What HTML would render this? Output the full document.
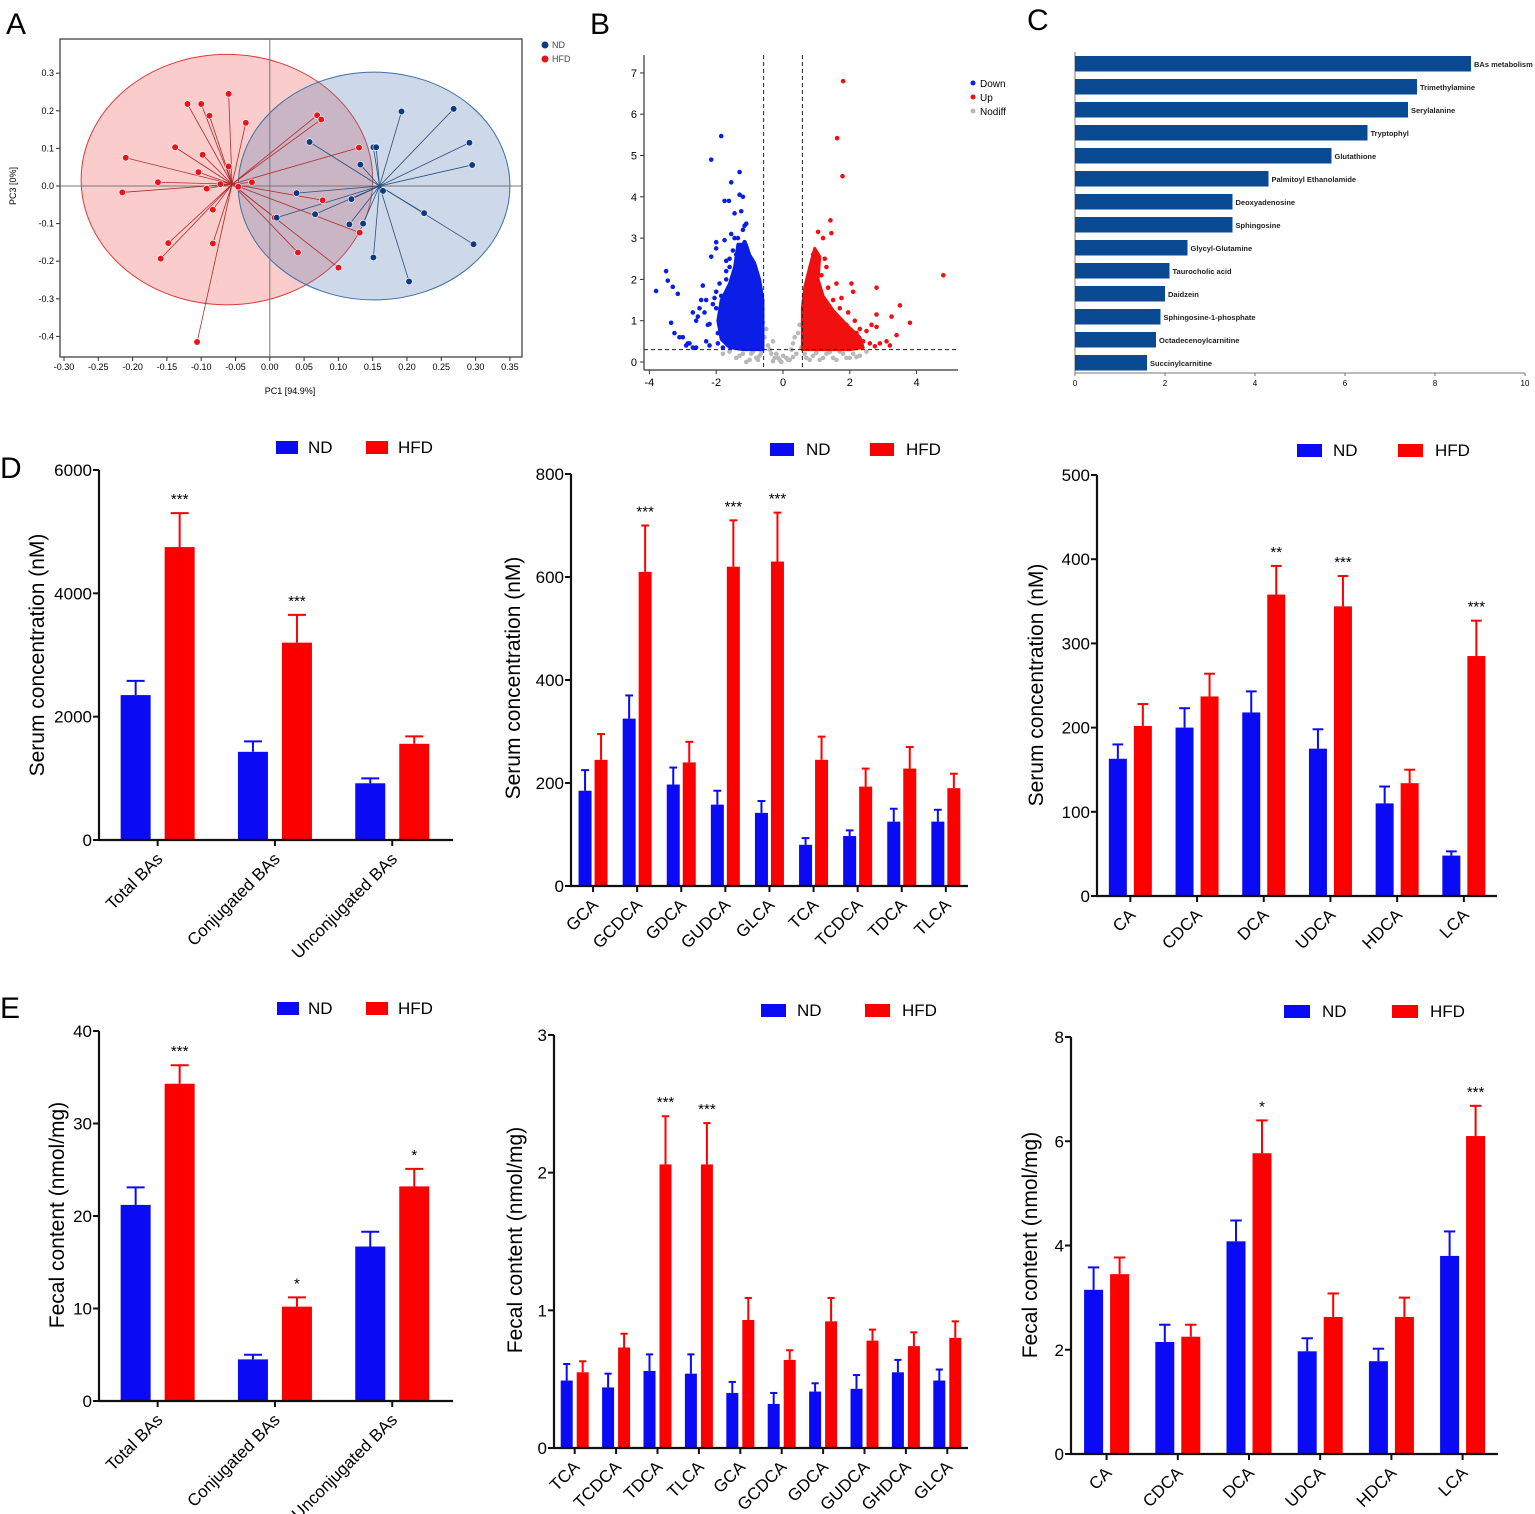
<!DOCTYPE html>
<html><head><meta charset="utf-8"><style>
html,body{margin:0;padding:0;background:#fff;}
svg{display:block;font-family:"Liberation Sans",Arial,sans-serif;}
</style></head><body>
<svg id="fig" width="1535" height="1514" viewBox="0 0 1535 1514" xmlns="http://www.w3.org/2000/svg">
<text x="6" y="34" font-size="30">A</text>
<text x="590" y="34" font-size="30">B</text>
<text x="1027" y="30" font-size="30">C</text>
<text x="0" y="478" font-size="30">D</text>
<text x="0" y="1018" font-size="30">E</text>
<g id="gA"></g>
<g id="gB"></g>
<g id="gC"></g>
<g id="gD1"></g>
<g id="gD2"></g>
<g id="gD3"></g>
<g id="gE1"></g>
<g id="gE2"></g>
<g id="gE3"></g>
</svg>
<script>
// ---------- Panel A data ----------
const pcaHFDx = [-0.06,-0.12,-0.10,-0.088,-0.035,-0.138,-0.21,-0.098,-0.06,-0.104,-0.163,-0.072,-0.215,-0.092,-0.046,-0.026,-0.083,-0.148,-0.159,-0.083,-0.106,0.069,0.075,0.13,0.077,0.007,0.041,0.131,0.1];
const pcaHFDy = [0.245,0.218,0.218,0.187,0.168,0.103,0.075,0.083,0.052,0.037,0.01,0.005,-0.017,-0.007,-0.002,0.01,-0.063,-0.152,-0.193,-0.153,-0.415,0.188,0.177,0.102,-0.038,-0.084,-0.177,-0.124,-0.217];
const pcaNDx = [0.058,0.192,0.268,0.291,0.295,0.151,0.155,0.132,0.165,0.039,0.119,0.066,0.01,0.116,0.136,0.225,0.297,0.151,0.203];
const pcaNDy = [0.117,0.198,0.205,0.115,0.056,0.103,0.103,0.057,-0.013,-0.019,-0.035,-0.075,-0.084,-0.102,-0.1,-0.072,-0.155,-0.19,-0.254];
const pcaXTicks = [-0.30,-0.25,-0.20,-0.15,-0.10,-0.05,0.00,0.05,0.10,0.15,0.20,0.25,0.30,0.35];
const pcaYTicks = [0.3,0.2,0.1,0.0,-0.1,-0.2,-0.3,-0.4];
// ---------- Panel B data ----------
const volDownX = [-3.8,-3.5,-3.45,-3.3,-3.15,-3.35,-3.25,-3.1,-3.0,-2.85,-2.7,-2.6,-2.7,-2.6,-2.5,-2.4,-2.3,-2.2,-2.15,-2.0,-2.0,-2.0,-1.85,-2.15,-1.3,-1.55,-1.75,-1.62,-1.3,-1.2,-1.45,-1.25,-1.15,-1.55,-1.45,-1.75,-2.3,-2.2,-1.8,-2.0,-1.9,-1.7,-1.6,-1.4,-2.1,-1.85,-2.45,-2.35,-2.25,-2.05,-1.95,-1.9,-1.8,-1.75,-1.7,-1.65,-1.6,-1.55,-1.5,-1.35,-1.3,-1.2,-1.15,-1.1,-2.8,-2.9,-2.55,-1.95,-1.85,-1.7];
const volDownY = [1.72,2.2,1.97,1.82,1.65,0.95,0.7,0.6,0.6,0.45,0.35,0.35,1.2,1.0,1.3,1.85,1.5,0.92,2.55,1.7,2.9,2.75,5.47,4.9,4.6,4.35,3.9,3.9,4.05,4.0,3.6,3.65,3.3,3.1,3.0,2.95,0.5,0.4,0.35,1.3,1.1,2.2,2.5,2.6,1.4,0.8,1.5,1.2,0.9,1.55,0.7,1.9,1.25,0.55,2.0,1.7,2.3,1.0,2.7,3.0,2.3,3.2,2.9,3.35,0.45,0.4,1.1,0.45,1.6,2.45];
const volUpX = [1.8,1.62,1.78,1.42,1.05,1.45,1.2,1.3,1.6,2.05,2.8,4.8,3.5,2.8,3.25,3.8,3.4,2.65,2.8,2.1,1.75,3.1,2.9,2.75,3.2,2.3,2.0,1.85,2.2,1.6,1.4,1.55,1.7,1.9,2.4,2.5,2.15,1.95,1.25,1.15,1.0,0.9,1.35,1.5,2.6];
const volUpY = [6.8,5.42,4.5,3.43,3.15,3.12,3.0,2.3,1.9,1.9,1.8,2.1,1.37,1.15,1.1,0.95,0.65,0.9,0.85,1.7,1.55,0.5,0.45,0.38,0.4,0.8,0.55,0.4,0.7,1.0,1.2,0.6,1.3,0.9,0.5,0.75,1.0,1.2,2.5,2.1,2.4,2.6,1.8,1.5,0.45];
const volNoX = [-1.4,-1.2,-1.0,-0.9,-0.8,-0.7,-0.55,-0.5,-0.45,-0.4,-0.35,-0.3,-0.25,-0.2,-0.1,0.0,0.1,0.2,0.25,0.3,0.35,0.4,0.45,0.5,0.55,0.7,0.9,1.1,1.3,1.5,1.7,1.9,2.1,2.3,-1.6,-0.6,0.6,-0.15,0.15,-0.05,-1.3,-1.1,-0.95,-0.75,-0.65,0.65,0.8,1.0,1.2,1.4,1.6,1.8,2.0,2.2,2.5,-1.8,-0.3,0.3];
const volNoY = [0.1,0.2,0.05,0.25,0.1,0.15,0.6,0.8,0.4,0.3,0.2,0.5,0.1,0.2,0.05,0.15,0.1,0.05,0.3,0.45,0.6,0.2,0.7,0.9,0.35,0.1,0.15,0.05,0.2,0.1,0.25,0.1,0.2,0.15,0.25,0.95,1.0,0.1,0.05,0.0,0.15,0.0,0.2,0.05,0.22,0.2,0.05,0.22,0.1,0.24,0.05,0.2,0.1,0.12,0.25,0.2,0.02,0.12];
const volDownPoly = [[-0.6,0.3],[-0.6,1.5],[-0.7,2.0],[-0.85,2.4],[-1.0,2.6],[-1.1,2.85],[-1.35,2.85],[-1.45,2.3],[-1.6,1.9],[-1.85,1.5],[-1.95,1.0],[-1.85,0.55],[-1.6,0.35],[-1.2,0.3]];
const volUpPoly = [[0.58,0.3],[0.58,1.3],[0.65,1.8],[0.8,2.3],[0.95,2.75],[1.1,2.55],[1.05,2.0],[1.2,1.6],[1.5,1.25],[1.9,0.9],[2.3,0.6],[2.4,0.35],[2.0,0.3]];
// ---------- Panel C data ----------
const cNames = ["BAs metabolism","Trimethylamine","Serylalanine","Tryptophyl","Glutathione","Palmitoyl Ethanolamide","Deoxyadenosine","Sphingosine","Glycyl-Glutamine","Taurocholic acid","Daidzein","Sphingosine-1-phosphate","Octadecenoylcarnitine","Succinylcarnitine"];
const cValues = [8.8,7.6,7.4,6.5,5.7,4.3,3.5,3.5,2.5,2.1,2.0,1.9,1.8,1.6];
const cTicks = [0,2,4,6,8,10];
// ---------- Panel D data ----------
const d1Cats = ["Total BAs","Conjugated BAs","Unconjugated BAs"];
const d1ND = [2350,1430,920];
const d1NDerr = [2580,1600,1000];
const d1HFD = [4750,3200,1560];
const d1HFDerr = [5300,3650,1680];
const d1Stars = ["***","***",""];
const d2Cats = ["GCA","GCDCA","GDCA","GUDCA","GLCA","TCA","TCDCA","TDCA","TLCA"];
const d2ND = [185,325,197,158,142,80,97,125,125];
const d2NDerr = [225,370,230,185,165,93,108,150,148];
const d2HFD = [245,610,240,620,630,245,193,228,190];
const d2HFDerr = [295,700,280,710,725,290,228,270,218];
const d2Stars = ["","***","","***","***","","","",""];
const d3Cats = ["CA","CDCA","DCA","UDCA","HDCA","LCA"];
const d3ND = [163,200,218,175,110,48];
const d3NDerr = [180,223,243,198,130,53];
const d3HFD = [202,237,358,344,134,285];
const d3HFDerr = [228,264,392,380,150,327];
const d3Stars = ["","","**","***","","***"];
// ---------- Panel E data ----------
const e1Cats = ["Total BAs","Conjugated BAs","Unconjugated BAs"];
const e1ND = [21.2,4.5,16.7];
const e1NDerr = [23.1,5.0,18.3];
const e1HFD = [34.3,10.2,23.2];
const e1HFDerr = [36.3,11.2,25.1];
const e1Stars = ["***","*","*"];
const e2Cats = ["TCA","TCDCA","TDCA","TLCA","GCA","GCDCA","GDCA","GUDCA","GHDCA","GLCA"];
const e2ND = [0.49,0.44,0.56,0.54,0.40,0.32,0.41,0.43,0.55,0.49];
const e2NDerr = [0.61,0.54,0.68,0.68,0.48,0.40,0.47,0.53,0.64,0.57];
const e2HFD = [0.55,0.73,2.06,2.06,0.93,0.64,0.92,0.78,0.74,0.80];
const e2HFDerr = [0.63,0.83,2.41,2.36,1.09,0.71,1.09,0.86,0.84,0.92];
const e2Stars = ["","","***","***","","","","","",""];
const e3Cats = ["CA","CDCA","DCA","UDCA","HDCA","LCA"];
const e3ND = [3.15,2.15,4.08,1.97,1.78,3.8];
const e3NDerr = [3.58,2.48,4.48,2.22,2.02,4.27];
const e3HFD = [3.45,2.25,5.77,2.63,2.63,6.1];
const e3HFDerr = [3.77,2.48,6.4,3.08,3.0,6.68];
const e3Stars = ["","","*","","","***"];

const NS="http://www.w3.org/2000/svg";
function mk(parent,tag,attrs,text){const e=document.createElementNS(NS,tag);for(const k in attrs)e.setAttribute(k,attrs[k]);if(text!==undefined)e.textContent=text;parent.appendChild(e);return e;}

// ===== Panel A =====
(function(){
 const g=document.getElementById('gA');
 const xA=v=>64+(v+0.3)/0.05*34.3, yA=v=>186-v*376;
 let e;
 e=mk(g,'rect',{x:60,y:39,width:462,height:318,fill:'none',stroke:'#333','stroke-width':1.2});
 
 e=mk(g,'ellipse',{cx:xA(-0.0625),cy:yA(0.017),rx:0.2125/0.05*34.3,ry:0.333*376,fill:'rgba(240,110,110,0.35)',stroke:'#e03a3a','stroke-width':1});
 
 e=mk(g,'ellipse',{cx:xA(0.152),cy:yA(0.0),rx:0.198/0.05*34.3,ry:0.303*376,fill:'rgba(90,130,180,0.3)',stroke:'#3f6fa8','stroke-width':1});
 
 mk(g,'line',{x1:xA(0),x2:xA(0),y1:39,y2:357,stroke:'#777','stroke-width':1});
 mk(g,'line',{x1:60,x2:522,y1:yA(0),y2:yA(0),stroke:'#777','stroke-width':1});
 pcaXTicks.forEach(t=>{mk(g,'line',{x1:xA(t),x2:xA(t),y1:357,y2:361,stroke:'#333'});
  e=mk(g,'text',{x:xA(t),y:370,'font-size':9,'text-anchor':'middle'},t.toFixed(2));
  });
 pcaYTicks.forEach(t=>{mk(g,'line',{x1:56,x2:60,y1:yA(t),y2:yA(t),stroke:'#333'});
  e=mk(g,'text',{x:54,y:yA(t)+3,'font-size':9,'text-anchor':'end'},t.toFixed(1));
  });
 e=mk(g,'text',{x:290,y:394,'font-size':9,'text-anchor':'middle'},'PC1 [94.9%]');
 
 e=mk(g,'text',{x:0,y:0,'font-size':9,'text-anchor':'middle',transform:'translate(16,186) rotate(-90)'},'PC3 [0%]');
 
 const cH=[xA(-0.055),yA(0.005)], cN=[xA(0.16),yA(0)];
 pcaHFDx.forEach((x,i)=>mk(g,'line',{x1:cH[0],y1:cH[1],x2:xA(x),y2:yA(pcaHFDy[i]),stroke:'#b32a2a','stroke-width':0.8}));
 pcaNDx.forEach((x,i)=>mk(g,'line',{x1:cN[0],y1:cN[1],x2:xA(x),y2:yA(pcaNDy[i]),stroke:'#2a4f80','stroke-width':0.8}));
 pcaHFDx.forEach((x,i)=>{e=mk(g,'circle',{cx:xA(x),cy:yA(pcaHFDy[i]),r:3.3,fill:'#e8141c',stroke:'#fff','stroke-width':0.6});
  });
 pcaNDx.forEach((x,i)=>{e=mk(g,'circle',{cx:xA(x),cy:yA(pcaNDy[i]),r:3.3,fill:'#0d3a82',stroke:'#fff','stroke-width':0.6});
  });
 mk(g,'circle',{cx:545,cy:45,r:3.5,fill:'#0d3a82'});
 e=mk(g,'text',{x:552,y:48,'font-size':9,fill:'#444'},'ND');
 mk(g,'circle',{cx:545,cy:59,r:3.5,fill:'#e8141c'});
 e=mk(g,'text',{x:552,y:62,'font-size':9,fill:'#444'},'HFD');
})();

// ===== Panel B =====
(function(){
 const g=document.getElementById('gB');
 const xB=v=>783+v*33.4, yB=v=>362-v*41.3;
 let e;
 mk(g,'line',{x1:644,x2:644,y1:55,y2:370,stroke:'#333','stroke-width':1.2});
 mk(g,'line',{x1:644,x2:958,y1:370,y2:370,stroke:'#333','stroke-width':1.2});
 [-4,-2,0,2,4].forEach(t=>{mk(g,'line',{x1:xB(t),x2:xB(t),y1:370,y2:374,stroke:'#333'});
  e=mk(g,'text',{x:xB(t),y:386,'font-size':11,'text-anchor':'middle'},String(t));
  });
 [0,1,2,3,4,5,6,7].forEach(t=>{mk(g,'line',{x1:640,x2:644,y1:yB(t),y2:yB(t),stroke:'#333'});
  e=mk(g,'text',{x:637,y:yB(t)+4,'font-size':11,'text-anchor':'end'},String(t));
  });
 volNoX.forEach((x,i)=>mk(g,'circle',{cx:xB(x),cy:yB(volNoY[i]),r:2.3,fill:'#b8b8b8'}));
 e=mk(g,'polygon',{points:volDownPoly.map(p=>xB(p[0])+','+yB(p[1])).join(' '),fill:'#0a1ee6',stroke:'#0a1ee6','stroke-width':3,'stroke-linejoin':'round'});
 
 e=mk(g,'polygon',{points:volUpPoly.map(p=>xB(p[0])+','+yB(p[1])).join(' '),fill:'#f01010',stroke:'#f01010','stroke-width':3,'stroke-linejoin':'round'});
 
 volDownX.forEach((x,i)=>mk(g,'circle',{cx:xB(x),cy:yB(volDownY[i]),r:2.3,fill:'#0a1ee6'}));
 volUpX.forEach((x,i)=>mk(g,'circle',{cx:xB(x),cy:yB(volUpY[i]),r:2.3,fill:'#f01010'}));
 mk(g,'line',{x1:xB(-0.58),x2:xB(-0.58),y1:55,y2:370,stroke:'#222','stroke-dasharray':'4,3'});
 mk(g,'line',{x1:xB(0.58),x2:xB(0.58),y1:55,y2:370,stroke:'#222','stroke-dasharray':'4,3'});
 mk(g,'line',{x1:644,x2:958,y1:yB(0.3),y2:yB(0.3),stroke:'#222','stroke-dasharray':'4,3'});
 [['Down','#0a1ee6',83],['Up','#f01010',97],['Nodiff','#b8b8b8',111]].forEach(l=>{
  mk(g,'circle',{cx:973,cy:l[2],r:2.5,fill:l[1]});
  e=mk(g,'text',{x:980,y:l[2]+4,'font-size':10},l[0]);
  });
})();

// ===== Panel C =====
(function(){
 const g=document.getElementById('gC');
 const xC=v=>1075+v*45;
 let e;
 mk(g,'line',{x1:1075,x2:1075,y1:52,y2:373,stroke:'#777'});
 mk(g,'line',{x1:1075,x2:1525,y1:373,y2:373,stroke:'#777'});
 cTicks.forEach(t=>{mk(g,'line',{x1:xC(t),x2:xC(t),y1:373,y2:376,stroke:'#777'});
  e=mk(g,'text',{x:xC(t),y:386,'font-size':8,'text-anchor':'middle'},String(t));
  });
 cValues.forEach((v,i)=>{const y=56+i*23;
  e=mk(g,'rect',{x:1075,y:y,width:xC(v)-1075,height:15.5,fill:'#0a4a92'});
  
  e=mk(g,'text',{x:xC(v)+3,y:y+11,'font-size':7.5,'font-weight':'bold',fill:'#222'},cNames[i]);
  });
})();

// ===== Bar charts =====
function barChart(id,L,cats,nd,ndE,hf,hfE,stars){
 const g=document.getElementById(id);
 const y=v=>L.y0-(v/L.ymax)*(L.y0-L.yTop);
 let e;
 const c0=L.ax+L.sp/2;
 for(let t=0;t<=L.ymax+1e-9;t+=L.step){
  mk(g,'line',{x1:L.ax-6,x2:L.ax,y1:y(t),y2:y(t),stroke:'#111','stroke-width':2});
  e=mk(g,'text',{x:L.ax-7,y:y(t)+6,'font-size':17,'text-anchor':'end'},String(Math.round(t*100)/100));
  
 }
 cats.forEach((c,i)=>{const cx=c0+i*L.sp;
  const xn=cx+L.nd-L.w/2, xh=cx+L.hf-L.w/2;
  e=mk(g,'rect',{x:xn,y:y(nd[i]),width:L.w,height:L.y0-y(nd[i]),fill:'#0a0af5'});
  
  e=mk(g,'rect',{x:xh,y:y(hf[i]),width:L.w,height:L.y0-y(hf[i]),fill:'#fc0000'});
  
  mk(g,'line',{x1:cx+L.nd,x2:cx+L.nd,y1:y(nd[i]),y2:y(ndE[i]),stroke:'#0a0af5','stroke-width':2});
  mk(g,'line',{x1:cx+L.nd-L.w*0.3,x2:cx+L.nd+L.w*0.3,y1:y(ndE[i]),y2:y(ndE[i]),stroke:'#0a0af5','stroke-width':2});
  mk(g,'line',{x1:cx+L.hf,x2:cx+L.hf,y1:y(hf[i]),y2:y(hfE[i]),stroke:'#fc0000','stroke-width':2});
  mk(g,'line',{x1:cx+L.hf-L.w*0.3,x2:cx+L.hf+L.w*0.3,y1:y(hfE[i]),y2:y(hfE[i]),stroke:'#fc0000','stroke-width':2});
  if(stars[i]){e=mk(g,'text',{x:cx+L.hf,y:y(hfE[i])-9,'font-size':15,'text-anchor':'middle'},stars[i]);
   }
  mk(g,'line',{x1:cx,x2:cx,y1:L.y0,y2:L.y0+6,stroke:'#111','stroke-width':2});
  e=mk(g,'text',{x:0,y:0,'font-size':17,'text-anchor':'end',transform:'translate('+(cx+6)+','+(L.y0+20)+') rotate(-45)'},c);
  
 });
 mk(g,'line',{x1:L.ax,x2:L.ax,y1:L.yTop,y2:L.y0+1,stroke:'#111','stroke-width':2.2});
 mk(g,'line',{x1:L.ax-1,x2:L.end,y1:L.y0,y2:L.y0,stroke:'#111','stroke-width':2.2});
 e=mk(g,'text',{x:0,y:0,'font-size':21,'text-anchor':'middle',transform:'translate('+L.tx+','+L.ty+') rotate(-90)'},L.title);
 
 e=mk(g,'rect',{x:L.lg[0],y:L.lg[1],width:L.lg[2],height:13,fill:'#0a0af5'});
 
 e=mk(g,'text',{x:L.lg[3],y:L.lg[1]+12,'font-size':17},'ND');
 
 e=mk(g,'rect',{x:L.lg[4],y:L.lg[1],width:L.lg[2],height:13,fill:'#fc0000'});
 
 e=mk(g,'text',{x:L.lg[5],y:L.lg[1]+12,'font-size':17},'HFD');
 
}
const SC='Serum concentration (nM)', FC='Fecal content (nmol/mg)';
barChart('gD1',{ax:99,y0:840,yTop:470,ymax:6000,step:2000,sp:117.3,end:453,nd:-22,hf:22,w:30,tx:44,ty:655,title:SC,lg:[276,441,22,308,366,398]},d1Cats,d1ND,d1NDerr,d1HFD,d1HFDerr,d1Stars);
barChart('gD2',{ax:571,y0:886,yTop:474,ymax:800,step:200,sp:44.1,end:968,nd:-8,hf:8,w:13,tx:520,ty:678,title:SC,lg:[770,443,24,806,870,906]},d2Cats,d2ND,d2NDerr,d2HFD,d2HFDerr,d2Stars);
barChart('gD3',{ax:1097,y0:896,yTop:475,ymax:500,step:100,sp:66.7,end:1497,nd:-12.5,hf:12.5,w:18,tx:1043,ty:685,title:SC,lg:[1297,444,25,1333,1398,1435]},d3Cats,d3ND,d3NDerr,d3HFD,d3HFDerr,d3Stars);
barChart('gE1',{ax:99,y0:1401,yTop:1031,ymax:40,step:10,sp:117.3,end:453,nd:-22,hf:22,w:30,tx:64,ty:1215,title:FC,lg:[277,1002,22,308,366,398]},e1Cats,e1ND,e1NDerr,e1HFD,e1HFDerr,e1Stars);
barChart('gE2',{ax:554,y0:1448,yTop:1035,ymax:3,step:1,sp:41.4,end:968,nd:-8,hf:8,w:12,tx:522,ty:1240,title:FC,lg:[761,1004,25,797,865,902]},e2Cats,e2ND,e2NDerr,e2HFD,e2HFDerr,e2Stars);
barChart('gE3',{ax:1071,y0:1454,yTop:1037,ymax:8,step:2,sp:71.2,end:1498,nd:-13,hf:13,w:19,tx:1037,ty:1245,title:FC,lg:[1284,1005,26,1322,1392,1430]},e3Cats,e3ND,e3NDerr,e3HFD,e3HFDerr,e3Stars);
</script>
</body></html>
